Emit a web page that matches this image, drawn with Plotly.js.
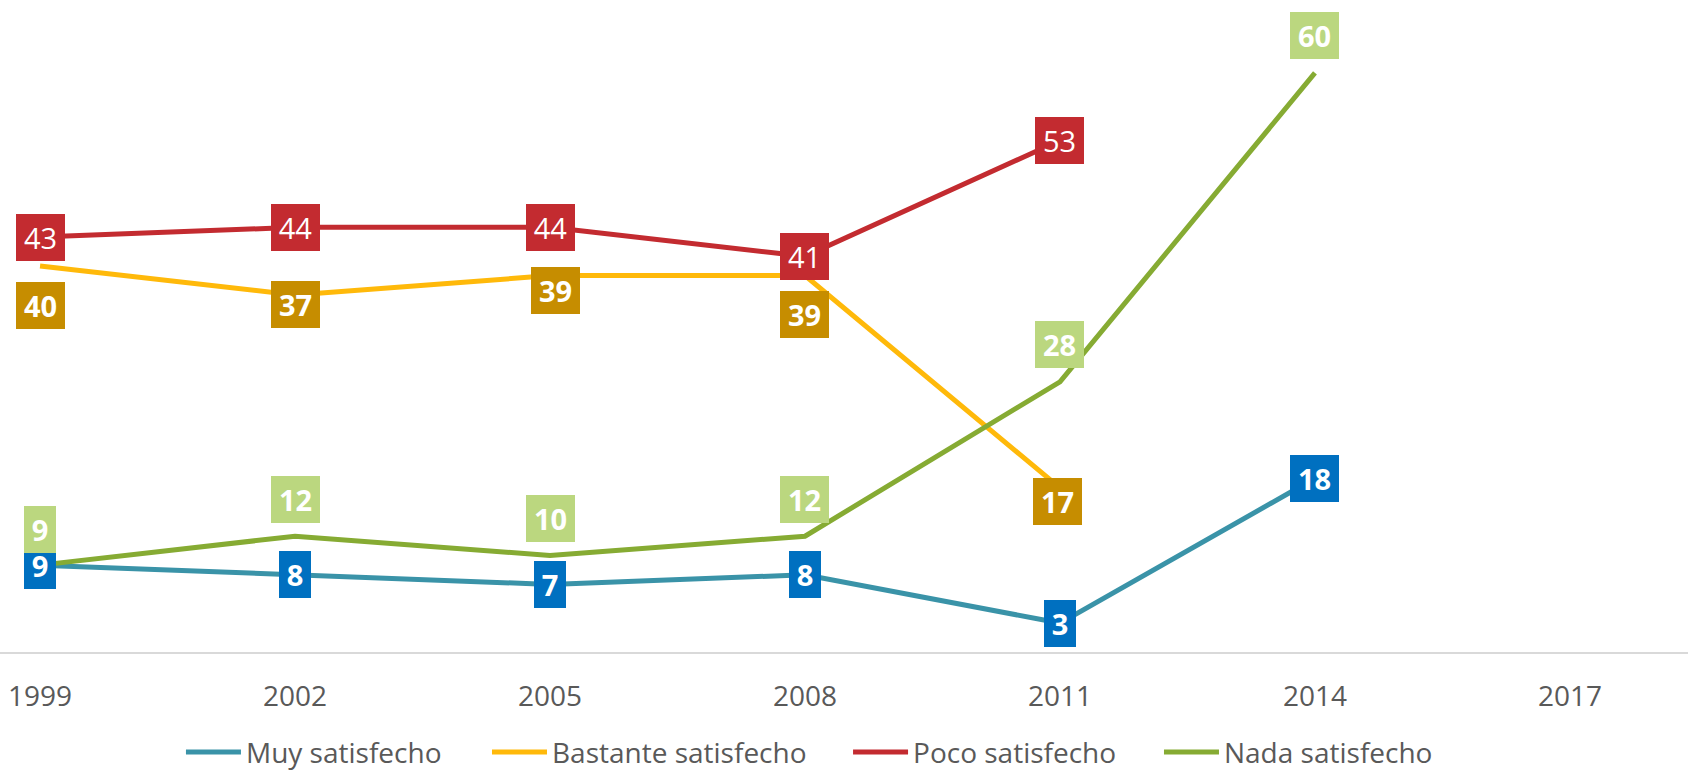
<!DOCTYPE html>
<html>
<head>
<meta charset="utf-8">
<script src="https://cdn.plot.ly/plotly-3.0.1.min.js"></script>
<style>
html,body{margin:0;padding:0;background:#fff;}
#chart{width:1688px;height:772px;}
</style>
</head>
<body>
<div id="chart"></div>
<script>
// ---- data ----
var years = ['1999', '2002', '2005', '2008', '2011', '2014', '2017'];
var seriesNames = ['Muy satisfecho', 'Bastante satisfecho', 'Poco satisfecho', 'Nada satisfecho'];
var muy      = [9, 8, 7, 8, 3, 18, null];
var bastante = [40, 37, 39, 39, 17, null, null];
var poco     = [43, 44, 44, 41, 53, null, null];
var nada     = [9, 12, 10, 12, 28, 60, null];

// ---- styles ----
var lineColors  = ['#3A93A8', '#FFB90A', '#C32B30', '#86AB33'];
var labelColors = ['#0070C0', '#C68D00', '#C32B30', '#BBD77F'];
var labelBold   = [true, true, false, true];
// label offsets in pixels (down = positive), per point
var labelShiftY = [
  [0, 0, 0, 0, 0, 0, 0],
  [40, 10, 15, 39, 14, 0, 0],
  [0, 0, 0, 0, 0, 0, 0],
  [-36, -37, -37, -37, -37, -37, 0]
];
var labelShiftX = [
  [0, 0, 0, 0, 0, 0, 0],
  [0, 0, 5, 0, -2, 0, 0],
  [0, 0, 0, 0, 0, 0, 0],
  [0, 0, 0, 0, 0, 0, 0]
];
// legend entry left positions (paper fraction)
var legendX = [0.1072, 0.2885, 0.5024, 0.6866];
var legendIds = ['legend', 'legend2', 'legend3', 'legend4'];

var allSeries = [muy, bastante, poco, nada];
var font = '"Open Sans", "Noto Sans", sans-serif';

var traces = allSeries.map(function (vals, s) {
  return {
    type: 'scatter',
    mode: 'lines',
    name: seriesNames[s],
    x: years,
    y: vals,
    line: {color: lineColors[s], width: 5},
    connectgaps: false,
    hoverinfo: 'skip',
    legend: legendIds[s]
  };
});

var annotations = [];
[0, 1, 2, 3].forEach(function (s) {
  var vals = allSeries[s];
  vals.forEach(function (v, i) {
    if (v === null) return;
    var txt = String(v);
    var w = txt.length > 1 ? 49 : 32;
    annotations.push({
      x: i, y: v, xref: 'x', yref: 'y',
      text: labelBold[s] ? '<b>' + txt + '</b>' : txt,
      showarrow: false,
      xanchor: 'center', yanchor: 'middle',
      width: w, height: 47,
      borderpad: 0, borderwidth: 0,
      bgcolor: labelColors[s],
      font: {family: font, size: 29, color: '#FFFFFF'},
      yshift: -labelShiftY[s][i],
      xshift: labelShiftX[s][i]
    });
  });
});

var layout = {
  width: 1688, height: 772,
  margin: {l: 0, r: 0, t: 0, b: 120, pad: 0, autoexpand: false},
  paper_bgcolor: '#FFFFFF', plot_bgcolor: '#FFFFFF',
  showlegend: true,
  xaxis: {
    type: 'category',
    range: [-0.157, 6.463],
    automargin: false,
    showgrid: false, zeroline: false,
    showline: true, linecolor: '#D9D9D9', linewidth: 2,
    ticks: 'outside', ticklen: 18, tickcolor: 'rgba(0,0,0,0)',
    tickfont: {family: font, size: 28, color: '#595959'},
    fixedrange: true
  },
  yaxis: {
    range: [0, 67.56],
    automargin: false,
    showgrid: false, zeroline: false, showline: false,
    showticklabels: false, ticks: '',
    fixedrange: true
  },
  annotations: annotations
};
legendIds.forEach(function (id, s) {
  layout[id] = {
    orientation: 'h',
    x: legendX[s], xanchor: 'left',
    y: -0.154, yanchor: 'middle',
    font: {family: font, size: 28, color: '#595959'},
    itemwidth: 55,
    bgcolor: 'rgba(0,0,0,0)'
  };
});

try {
  Plotly.newPlot('chart', traces, layout, {displayModeBar: false, staticPlot: true});
} catch (e) {
  document.body.insertAdjacentHTML('beforeend', '<pre>' + e + '</pre>');
}
</script>
</body>
</html>
